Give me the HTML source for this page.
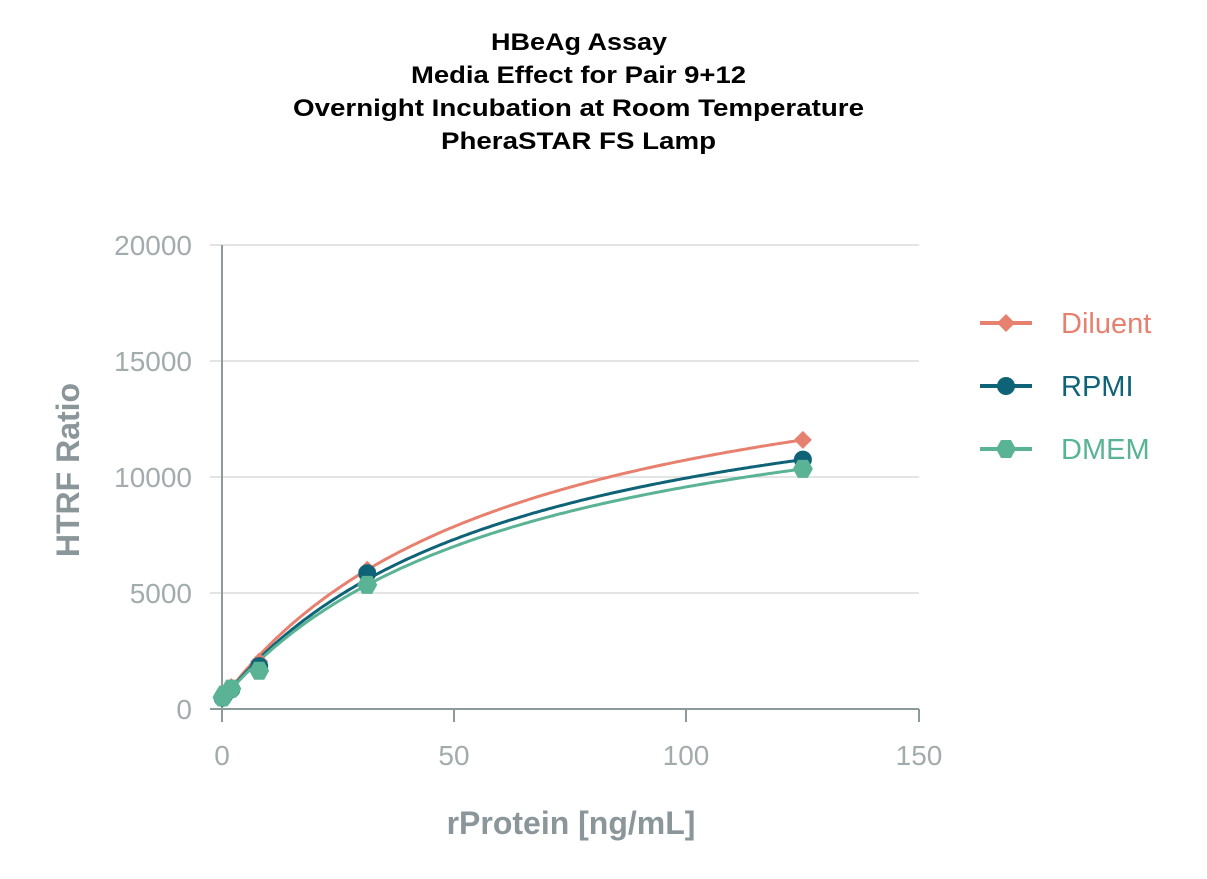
<!DOCTYPE html><html><head><style>body{margin:0;background:#fff}</style></head><body>
<svg id="s" width="1207" height="874" xmlns="http://www.w3.org/2000/svg" font-family="Liberation Sans, sans-serif">
<g font-weight="bold" font-size="24" fill="#000">
<text x="491" y="50" textLength="176" lengthAdjust="spacingAndGlyphs">HBeAg Assay</text>
<text x="411" y="83" textLength="335" lengthAdjust="spacingAndGlyphs">Media Effect for Pair 9+12</text>
<text x="293" y="116" textLength="571" lengthAdjust="spacingAndGlyphs">Overnight Incubation at Room Temperature</text>
<text x="441" y="149" textLength="275" lengthAdjust="spacingAndGlyphs">PheraSTAR FS Lamp</text>
</g>
<g stroke="#dcdcdc" stroke-width="1.5">
<line x1="210" y1="245" x2="919" y2="245"/><line x1="210" y1="361" x2="919" y2="361"/>
<line x1="210" y1="477" x2="919" y2="477"/><line x1="210" y1="593" x2="919" y2="593"/>
</g>
<g stroke="#8d9a9c" stroke-width="2">
<line x1="222" y1="245" x2="222" y2="722"/><line x1="210" y1="709" x2="919" y2="709"/>
<line x1="454" y1="709" x2="454" y2="722"/><line x1="686" y1="709" x2="686" y2="722"/><line x1="919" y1="709" x2="919" y2="722"/>
</g>
<g fill="#a3acad" font-size="28" text-anchor="end">
<text x="192" y="255">20000</text><text x="192" y="371">15000</text><text x="192" y="487">10000</text><text x="192" y="603">5000</text><text x="192" y="719">0</text>
</g>
<g fill="#a3acad" font-size="28" text-anchor="middle">
<text x="222" y="765">0</text><text x="454" y="765">50</text><text x="686" y="765">100</text><text x="919" y="765">150</text>
</g>
<text x="571" y="834" text-anchor="middle" font-weight="bold" font-size="32" fill="#8a9699">rProtein [ng/mL]</text>
<text transform="translate(79,470) rotate(-90)" text-anchor="middle" font-weight="bold" font-size="32" fill="#8a9699">HTRF Ratio</text>
<g id="plot"></g>
<g stroke-width="4">
<line x1="980" y1="323" x2="1032" y2="323" stroke="#e8806f"/><path d="M1006 314 L1015 323 L1006 332 L997 323Z" fill="#e8806f"/>
<line x1="980" y1="386" x2="1032" y2="386" stroke="#0f6377"/><circle cx="1006" cy="386" r="9" fill="#0f6377"/>
<line x1="980" y1="449" x2="1032" y2="449" stroke="#5ab394"/><path d="M1001 440 L1011 440 L1016 449 L1011 458 L1001 458 L996 449Z" fill="#5ab394"/>
</g>
<g font-size="29">
<text x="1061" y="333" fill="#e8806f">Diluent</text>
<text x="1061" y="396" fill="#0f6377">RPMI</text>
<text x="1061" y="459" fill="#5ab394">DMEM</text>
</g>
</svg>
<script>
var P=document.getElementById('plot'),ns='http://www.w3.org/2000/svg';
function px(x){return 222+x*4.647}function py(y){return 709-y*0.0232}
var S=[
 {c:'#e8806f',f:function(x){return 400+16800*x/(62.5+x)},m:'d',pts:[[0.12,560],[0.5,650],[2,950],[8,2050],[31.25,6000],[125,11600]]},
 {c:'#0f6377',f:function(x){return 400+15484*x/(62+x)},m:'c',pts:[[0.12,480],[0.5,600],[2,850],[8,1850],[31.25,5850],[125,10750]]},
 {c:'#5ab394',f:function(x){return 400+15005*x/(63.5+x)},m:'h',pts:[[0.12,500],[0.5,620],[2,880],[8,1650],[31.25,5350],[125,10350]]}];
S.forEach(function(s){var d='';for(var x=0;x<=125;x+=0.5){d+=(x?'L':'M')+px(x).toFixed(1)+' '+py(s.f(x)).toFixed(1)}
var p=document.createElementNS(ns,'path');p.setAttribute('d',d);p.setAttribute('fill','none');p.setAttribute('stroke',s.c);p.setAttribute('stroke-width','3');P.appendChild(p);});
S.forEach(function(s){s.pts.forEach(function(q){var X=px(q[0]),Y=py(q[1]),e;
if(s.m=='c'){e=document.createElementNS(ns,'circle');e.setAttribute('cx',X);e.setAttribute('cy',Y);e.setAttribute('r',9);}
else{e=document.createElementNS(ns,'path');e.setAttribute('d',s.m=='d'?'M'+X+' '+(Y-9)+'L'+(X+9)+' '+Y+'L'+X+' '+(Y+9)+'L'+(X-9)+' '+Y+'Z':'M'+(X-5)+' '+(Y-9)+'L'+(X+5)+' '+(Y-9)+'L'+(X+10)+' '+Y+'L'+(X+5)+' '+(Y+9)+'L'+(X-5)+' '+(Y+9)+'L'+(X-10)+' '+Y+'Z');}
e.setAttribute('fill',s.c);P.appendChild(e);});});
</script>
</body></html>
